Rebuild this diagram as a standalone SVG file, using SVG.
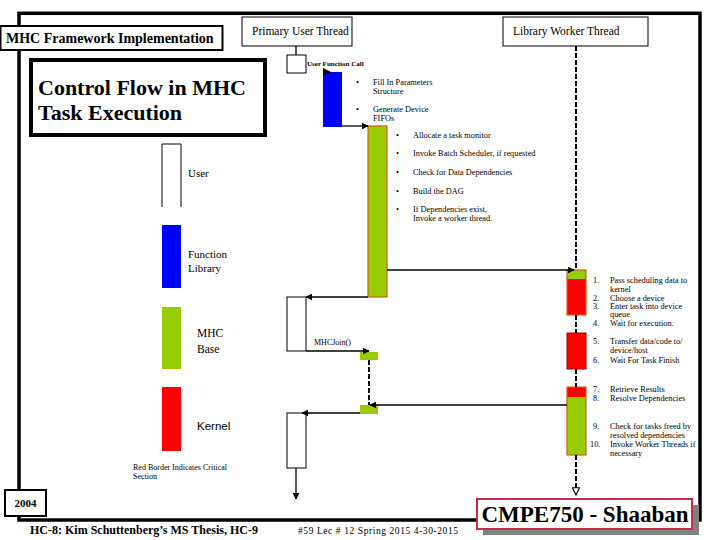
<svg xmlns="http://www.w3.org/2000/svg" width="720" height="540" viewBox="0 0 720 540">
<defs>
<marker id="ah" viewBox="0 0 10 10" refX="9" refY="5" markerWidth="7" markerHeight="7" markerUnits="userSpaceOnUse" orient="auto"><path d="M0,0 L10,5 L0,10 z" fill="#000"/></marker>
<marker id="oh" viewBox="0 0 10 10" refX="9" refY="5" markerWidth="9" markerHeight="9" markerUnits="userSpaceOnUse" orient="auto"><path d="M1,1 L9,5 L1,9 z" fill="#fff" stroke="#000" stroke-width="1.2"/></marker>
</defs>
<style>
.t{font-family:"Liberation Serif","Times New Roman",serif;fill:#000}
.b{font-weight:bold}
.s{font-size:8.3px}
.lg{font-size:11px}
.hd{font-size:11.5px}
.box{fill:#fff;stroke:#000;stroke-width:1}
.ln{fill:none;stroke:#000;stroke-width:1.3}
.dl{fill:none;stroke:#000;stroke-width:2;stroke-dasharray:5 2}
.gr{fill:#99cc00}
.rd{fill:#ff0000}
.bl{fill:#0000ff}
.crit{fill:none;stroke:#c86414;stroke-width:1.2}
</style>
<rect width="720" height="540" fill="#fff"/>
<g id="frame">
<rect x="19" y="13.3" width="681" height="506.7" fill="none" stroke="#000" stroke-width="3.5"/>
</g>
<g id="title">
<rect x="0.5" y="26" width="222" height="24" fill="#fff" stroke="#000" stroke-width="2"/>
<text class="t b" x="6" y="43" font-size="14">MHC Framework Implementation</text>
</g>
<g id="heading">
<rect x="31" y="60" width="234" height="75" fill="#fff" stroke="#000" stroke-width="4"/>
<text class="t b" x="38" y="95" font-size="22">Control Flow in MHC</text>
<text class="t b" x="38" y="120" font-size="22">Task Execution</text>
</g>
<g id="primary-thread">
<rect class="box" x="242" y="17" width="110" height="29"/>
<text class="t hd" x="252" y="35">Primary User Thread</text>
</g>
<g id="worker-thread">
<rect class="box" x="503" y="17" width="145" height="29"/>
<text class="t hd" x="513" y="35">Library Worker Thread</text>
</g>
<g id="user-call">
<rect class="box" x="287" y="55" width="19" height="18"/>
<text class="t b" x="307" y="66" font-size="7">User Function Call</text>
</g>
<g id="function-library-bar">
<rect class="bl" x="323" y="72" width="19" height="55"/>
<text class="t s" x="356" y="85">•</text>
<text class="t s" x="373" y="85">Fill In Parameters</text>
<text class="t s" x="373" y="94">Structure</text>
<text class="t s" x="356" y="112">•</text>
<text class="t s" x="373" y="112">Generate Device</text>
<text class="t s" x="373" y="121">FIFOs</text>
</g>
<g id="mhc-base-bar">
<rect class="gr" x="368" y="126" width="19" height="171"/>
<rect class="crit" x="368" y="126" width="19" height="171"/>
<text class="t s" x="396" y="138">•</text>
<text class="t s" x="413" y="138">Allocate a task monitor</text>
<text class="t s" x="396" y="156">•</text>
<text class="t s" x="413" y="156">Invoke Batch Scheduler, if requested</text>
<text class="t s" x="396" y="175">•</text>
<text class="t s" x="413" y="175">Check for Data Dependencies</text>
<text class="t s" x="396" y="194">•</text>
<text class="t s" x="413" y="194">Build the DAG</text>
<text class="t s" x="396" y="212">•</text>
<text class="t s" x="413" y="212">If Dependencies exist,</text>
<text class="t s" x="413" y="221">Invoke a worker thread.</text>
</g>
<g id="user-join">
<rect class="box" x="287" y="297" width="19" height="54"/>
<text class="t" x="314" y="345" font-size="8">MHCJoin()</text>
</g>
<g id="join-bar-1">
<rect class="gr" x="360" y="352" width="18" height="8"/>
</g>
<g id="join-bar-2">
<rect class="gr" x="360" y="405" width="18" height="9"/>
</g>
<g id="user-return">
<rect class="box" x="287" y="413" width="19" height="55"/>
</g>
<g id="worker-bar-a">
<rect class="gr" x="567" y="270" width="19" height="9"/>
<rect class="rd" x="567" y="279" width="19" height="36"/>
<rect class="crit" x="567" y="270" width="19" height="45"/>
<text class="t s" x="593" y="283">1.</text>
<text class="t s" x="610" y="283">Pass scheduling data to</text>
<text class="t s" x="610" y="292">kernel</text>
<text class="t s" x="593" y="301">2.</text>
<text class="t s" x="610" y="301">Choose a device</text>
<text class="t s" x="593" y="309">3.</text>
<text class="t s" x="610" y="309">Enter task into device</text>
<text class="t s" x="610" y="317">queue</text>
<text class="t s" x="593" y="326">4.</text>
<text class="t s" x="610" y="326">Wait for execution.</text>
</g>
<g id="worker-bar-b">
<rect class="rd" x="567" y="333" width="19" height="36" stroke="#a00000" stroke-width="1"/>
<text class="t s" x="593" y="344">5.</text>
<text class="t s" x="610" y="344">Transfer data/code to/</text>
<text class="t s" x="610" y="353">device/host</text>
<text class="t s" x="593" y="363">6.</text>
<text class="t s" x="610" y="363">Wait For Task Finish</text>
</g>
<g id="worker-bar-c">
<rect class="rd" x="567" y="387" width="19" height="10"/>
<rect class="gr" x="567" y="397" width="19" height="58"/>
<rect class="crit" x="567" y="387" width="19" height="68"/>
<text class="t s" x="593" y="392">7.</text>
<text class="t s" x="610" y="392">Retrieve Results</text>
<text class="t s" x="593" y="401">8.</text>
<text class="t s" x="610" y="401">Resolve Dependencies</text>
<text class="t s" x="593" y="429">9.</text>
<text class="t s" x="610" y="429">Check for tasks freed by</text>
<text class="t s" x="610" y="438">resolved dependencies</text>
<text class="t s" x="590" y="447">10.</text>
<text class="t s" x="610" y="447">Invoke Worker Threads if</text>
<text class="t s" x="610" y="456">necessary</text>
</g>
<g id="connectors">
<path class="ln" d="M296,46 V55"/>
<path class="dl" d="M576,46 V270"/>
<path class="dl" d="M576,315 V333"/>
<path class="dl" d="M576,369 V387"/>
<path class="dl" d="M576,455 V488"/>
<path class="ln" d="M576,486 V495" marker-end="url(#oh)"/>
<path d="M323,68 L331,72 L323,76 z" fill="#000"/>
<path class="ln" d="M342,126 H368" marker-end="url(#ah)"/>
<path class="ln" d="M368,297 H306" marker-end="url(#ah)"/>
<path class="ln" d="M306,351 H369" marker-end="url(#ah)"/>
<path class="ln" d="M387,270 H574" marker-end="url(#ah)"/>
<path class="dl" d="M369,360 V405"/>
<path class="ln" d="M567,405 H370" marker-end="url(#ah)"/>
<path class="ln" d="M360,413 H302" marker-end="url(#ah)"/>
<path class="ln" d="M296,468 V499" marker-end="url(#ah)"/>
</g>
<g id="legend">
<path d="M162,207 V144 H181 V207" fill="none" stroke="#000" stroke-width="1"/>
<text class="t lg" x="188" y="177">User</text>
<rect class="bl" x="162" y="225" width="19" height="63"/>
<text class="t lg" x="188" y="258">Function</text>
<text class="t lg" x="188" y="272">Library</text>
<rect class="gr" x="162" y="307" width="19" height="62"/>
<text class="t" x="197" y="337" font-size="11.5">MHC</text>
<text class="t" x="197" y="353" font-size="11.5">Base</text>
<rect class="rd" x="162" y="387" width="19" height="64"/>
<text x="197" y="430" font-family="Liberation Sans, Arial, sans-serif" font-size="11.5">Kernel</text>
<text class="t" x="133" y="470" font-size="8">Red Border Indicates Critical</text>
<text class="t" x="133" y="479" font-size="8">Section</text>
</g>
<g id="year">
<rect x="5" y="490" width="41" height="26" fill="#fff" stroke="#000" stroke-width="2"/>
<text class="t b" x="25.5" y="507" font-size="11" text-anchor="middle">2004</text>
</g>
<g id="footer">
<text class="t b" x="30" y="534" font-size="12">HC-8: Kim Schuttenberg’s MS Thesis, HC-9</text>
<text class="t" x="298" y="534" font-size="9.5" textLength="160" lengthAdjust="spacing">#59  Lec # 12   Spring 2015  4-30-2015</text>
</g>
<g id="course">
<rect x="483" y="505" width="216" height="30" fill="#808080"/>
<rect x="477" y="499" width="215" height="30" fill="#fff" stroke="#c0304a" stroke-width="2"/>
<text class="t b" x="585" y="522" font-size="23" text-anchor="middle">CMPE750 - Shaaban</text>
</g>
</svg>
